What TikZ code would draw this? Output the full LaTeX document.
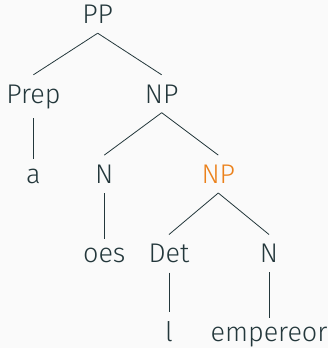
\documentclass[tikz,border=0pt]{standalone}
\usepackage{fontspec}
\setmainfont{Fira Sans}[UprightFont=* Light]
\definecolor{mtext}{HTML}{23373B}
\definecolor{malert}{HTML}{EB811B}
\definecolor{mbg}{HTML}{FAFAFA}
\begin{document}
\begin{tikzpicture}[x=1pt,y=-1pt,
  tn/.style={anchor=base,inner xsep=2pt,inner ysep=9.5pt,text=mtext,font=\fontsize{27}{32}\selectfont},
  alert/.style={text=malert},
  edge/.style={draw=mtext,line width=0.8pt}]
\fill[mbg] (0,0) rectangle (328,348);
\useasboundingbox (0,0) rectangle (328,348);
\node[tn] (pp) at (97.7,23.5) {PP};
\node[tn] (prep) at (33.4,103) {Prep};
\node[tn] (np1) at (161.7,103) {NP};
\node[tn] (a) at (33.4,183.3) {a};
\node[tn] (n1) at (104.3,183.3) {N};
\node[tn,alert] (np2) at (218.3,183.3) {NP};
\node[tn] (oes) at (104.3,262.7) {oes};
\node[tn] (det) at (169,262.7) {Det};
\node[tn] (n2) at (269,262.7) {N};
\node[tn] (l) at (169,341.7) {l};
\node[tn] (emp) at (269,341.7) {empereor};
\draw[edge] (pp.south) -- (prep.north);
\draw[edge] (pp.south) -- (np1.north);
\draw[edge] (prep.south) -- (a.north);
\draw[edge] (np1.south) -- (n1.north);
\draw[edge] (np1.south) -- (np2.north);
\draw[edge] (n1.south) -- (oes.north);
\draw[edge] (np2.south) -- (det.north);
\draw[edge] (np2.south) -- (n2.north);
\draw[edge] (det.south) -- (l.north);
\draw[edge] (n2.south) -- (emp.north);
\end{tikzpicture}
\end{document}
